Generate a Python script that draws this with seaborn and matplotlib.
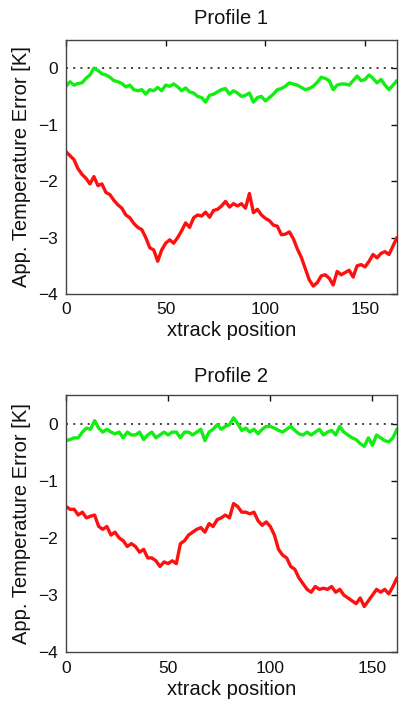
import numpy as np
import pandas as pd
import matplotlib
matplotlib.use("Agg")
import matplotlib.pyplot as plt
import seaborn as sns

# Apparent temperature error along the cross-track direction, sampled every 2 positions
p1_green = [-0.32, -0.24, -0.30, -0.27, -0.26, -0.18, -0.12, 0.00, -0.04, -0.10,
            -0.12, -0.16, -0.22, -0.24, -0.27, -0.33, -0.30, -0.38, -0.40, -0.38,
            -0.46, -0.38, -0.40, -0.34, -0.40, -0.30, -0.32, -0.28, -0.33, -0.40,
            -0.35, -0.42, -0.44, -0.50, -0.52, -0.60, -0.48, -0.46, -0.42, -0.38,
            -0.36, -0.46, -0.40, -0.44, -0.50, -0.48, -0.44, -0.60, -0.52, -0.50,
            -0.58, -0.52, -0.46, -0.38, -0.36, -0.32, -0.26, -0.28, -0.30, -0.34,
            -0.38, -0.36, -0.32, -0.25, -0.16, -0.18, -0.22, -0.38, -0.30, -0.28,
            -0.28, -0.30, -0.22, -0.14, -0.22, -0.20, -0.12, -0.18, -0.26, -0.20,
            -0.30, -0.38, -0.30, -0.22]
p1_red = [-1.48, -1.55, -1.62, -1.78, -1.88, -1.95, -2.05, -1.92, -2.08, -2.05,
          -2.20, -2.24, -2.34, -2.42, -2.48, -2.60, -2.65, -2.75, -2.82, -2.86,
          -3.00, -3.18, -3.22, -3.42, -3.22, -3.10, -3.04, -3.10, -3.00, -2.88,
          -2.74, -2.82, -2.65, -2.60, -2.62, -2.55, -2.64, -2.52, -2.50, -2.44,
          -2.36, -2.46, -2.40, -2.44, -2.40, -2.48, -2.22, -2.56, -2.50, -2.60,
          -2.66, -2.70, -2.78, -2.80, -2.95, -2.94, -2.90, -3.02, -3.20, -3.35,
          -3.55, -3.75, -3.86, -3.80, -3.68, -3.66, -3.72, -3.84, -3.60, -3.66,
          -3.62, -3.58, -3.70, -3.50, -3.48, -3.52, -3.42, -3.30, -3.36, -3.28,
          -3.25, -3.30, -3.15, -3.00]
p2_green = [-0.30, -0.28, -0.25, -0.25, -0.15, -0.08, -0.10, 0.05, -0.08, -0.15,
            -0.10, -0.15, -0.18, -0.15, -0.25, -0.15, -0.20, -0.20, -0.15, -0.28,
            -0.20, -0.15, -0.25, -0.20, -0.15, -0.20, -0.15, -0.15, -0.25, -0.15,
            -0.15, -0.20, -0.15, -0.10, -0.30, -0.15, -0.10, -0.02, -0.10, -0.05,
            -0.02, 0.10, 0.00, -0.12, -0.08, -0.15, -0.10, -0.18, -0.10, -0.05,
            -0.05, -0.08, -0.12, -0.15, -0.10, -0.05, -0.12, -0.18, -0.20, -0.15,
            -0.20, -0.15, -0.10, -0.20, -0.15, -0.12, -0.20, -0.05, -0.15, -0.20,
            -0.25, -0.28, -0.35, -0.40, -0.25, -0.38, -0.20, -0.25, -0.30, -0.32,
            -0.25, -0.10]
p2_red = [-1.45, -1.50, -1.50, -1.60, -1.55, -1.65, -1.62, -1.60, -1.80, -1.85,
          -1.80, -1.95, -1.90, -2.00, -2.05, -2.15, -2.10, -2.15, -2.25, -2.20,
          -2.35, -2.35, -2.40, -2.50, -2.42, -2.45, -2.40, -2.45, -2.10, -2.05,
          -1.95, -1.90, -1.85, -1.82, -1.90, -1.75, -1.80, -1.68, -1.65, -1.60,
          -1.65, -1.40, -1.45, -1.55, -1.55, -1.58, -1.55, -1.70, -1.78, -1.72,
          -1.80, -1.95, -2.20, -2.30, -2.35, -2.50, -2.55, -2.70, -2.80, -2.90,
          -2.95, -2.85, -2.90, -2.88, -2.90, -2.85, -2.95, -2.90, -3.00, -3.05,
          -3.10, -3.15, -3.05, -3.20, -3.10, -3.00, -2.90, -2.95, -2.90, -2.98,
          -2.85, -2.70]

profiles = ["Profile 1", "Profile 2"]
x_max = [166, 162]
x_ticks = [0, 50, 100, 150]
y_ticks = [0, -1, -2, -3, -4]

sns.set_style("white")
plt.rcParams["font.family"] = ["Liberation Sans", "DejaVu Sans"]

fig = plt.figure(figsize=(4.01, 7.05), dpi=100)
ax_rects = [[0.1646, 0.583, 0.8254, 0.3603],
            [0.1646, 0.0748, 0.8254, 0.365]]
title_pads = [11.5, 9.5]

series = [(p1_green, p1_red), (p2_green, p2_red)]
for rect, title, tpad, xm, (g, r) in zip(ax_rects, profiles, title_pads, x_max, series):
    ax = fig.add_axes(rect)
    pos = np.arange(len(g)) * 2
    df = pd.DataFrame({"xtrack": np.concatenate([pos, pos]),
                       "err": np.concatenate([g, r]),
                       "case": ["green"] * len(g) + ["red"] * len(r)})
    ax.axhline(0, color="#333333", lw=1.3, ls=(0, (1.1, 2.9)), zorder=1)
    sns.lineplot(data=df, x="xtrack", y="err", hue="case",
                 palette={"green": "#11ee11", "red": "#ff1010"},
                 lw=2.4, legend=False, ax=ax, zorder=2)
    ax.set_xlim(0, xm)
    ax.set_ylim(-4, 0.5)
    ax.set_xticks(x_ticks)
    ax.set_yticks(y_ticks)
    ax.tick_params(direction="in", length=4, width=1, top=True, right=True,
                   labelsize=12.5, pad=6, colors="#111111")
    for s in ax.spines.values():
        s.set_color("#444444")
        s.set_linewidth(1.0)
    ax.set_title(title, fontsize=14.5, pad=tpad, color="#111111")
    ax.set_xlabel("xtrack position", fontsize=14.5, labelpad=3, color="#111111")
    ax.set_ylabel("App. Temperature Error [K]", fontsize=14.5, labelpad=5,
                  color="#111111")

fig.savefig("out.png", dpi=100)
